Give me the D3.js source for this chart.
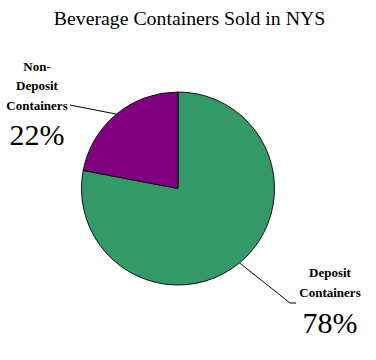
<!DOCTYPE html>
<html>
<head>
<meta charset="utf-8">
<script src="https://cdn.jsdelivr.net/npm/d3@7"></script>
<style>
  body { margin: 0; background: #fff; }
  svg { display: block; }
</style>
</head>
<body>
<svg id="chart" width="376" height="360"></svg>
<script>
// data
const categories = ['Deposit Containers', 'Non-Deposit Containers']
const values = [78, 22]
const colors = ['#339966', '#800080']

const serif = '"Liberation Serif", "DejaVu Serif", serif'
const svg = d3.select('#chart')
const cx = 178, cy = 188.5, r = 96.5

svg.append('text')
  .attr('x', 189.5)
  .attr('y', 25)
  .attr('text-anchor', 'middle')
  .attr('font-family', serif)
  .attr('font-size', 19.8)
  .text('Beverage Containers Sold in NYS')

const pie = d3.pie().sort(null).value(d => d)
const arcs = pie(values)
const arc = d3.arc().innerRadius(0).outerRadius(r)

const g = svg.append('g').attr('transform', `translate(${cx},${cy})`)
g.selectAll('path')
  .data(arcs)
  .enter().append('path')
  .attr('d', arc)
  .attr('fill', (d, i) => colors[i])
  .attr('stroke', '#111')
  .attr('stroke-width', 1)

// leader lines start at the middle of each slice's edge
const edge = d3.arc().innerRadius(r).outerRadius(r)
const pNon = edge.centroid(arcs[1])
const pDep = edge.centroid(arcs[0])

svg.append('path')
  .attr('d', `M70,105 L${cx + pNon[0]},${cy + pNon[1]}`)
  .attr('stroke', '#000').attr('fill', 'none').attr('stroke-width', 1)

svg.append('path')
  .attr('d', `M${cx + pDep[0]},${cy + pDep[1]} L290,303 L296,303`)
  .attr('stroke', '#000').attr('fill', 'none').attr('stroke-width', 1)

// labels
function label (x, lines, y0, pct, py) {
  const t = svg.append('text')
    .attr('text-anchor', 'middle')
    .attr('font-family', serif)
    .attr('font-size', 13)
    .attr('font-weight', 'bold')
  lines.forEach((l, i) => {
    t.append('tspan').attr('x', x).attr('y', y0 + i * 19.5).text(l)
  })
  svg.append('text')
    .attr('x', x)
    .attr('y', py)
    .attr('text-anchor', 'middle')
    .attr('font-family', serif)
    .attr('font-size', 30)
    .text(pct + '%')
}

label(37, ['Non-', 'Deposit', 'Containers'], 70.5, values[1], 145)
label(330, ['Deposit', 'Containers'], 277, values[0], 333)
</script>
</body>
</html>
